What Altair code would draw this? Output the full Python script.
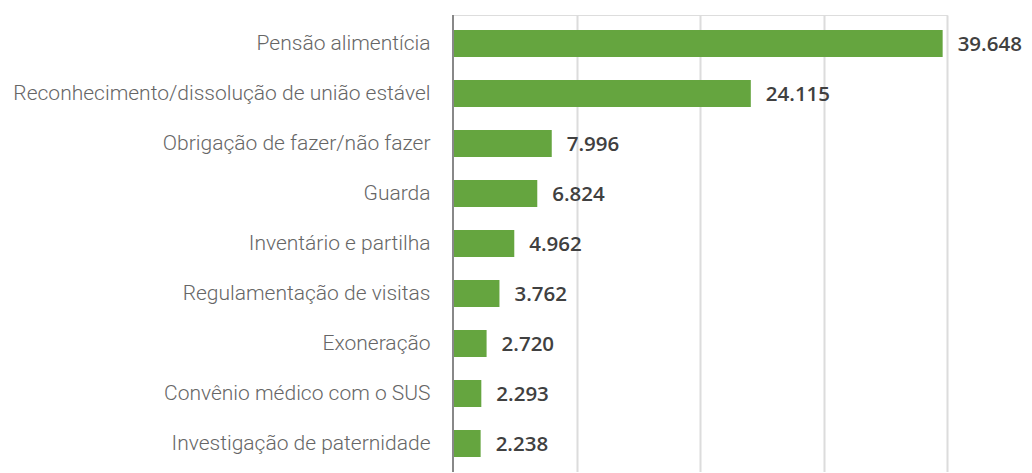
import altair as alt
import pandas as pd

categories = [
    "Pensão alimentícia",
    "Reconhecimento/dissolução de união estável",
    "Obrigação de fazer/não fazer",
    "Guarda",
    "Inventário e partilha",
    "Regulamentação de visitas",
    "Exoneração",
    "Convênio médico com o SUS",
    "Investigação de paternidade",
]
values = [39648, 24115, 7996, 6824, 4962, 3762, 2720, 2293, 2238]
value_labels = ["39.648", "24.115", "7.996", "6.824", "4.962", "3.762", "2.720", "2.293", "2.238"]

df = pd.DataFrame({"cat": categories, "val": values, "lab": value_labels})

y_enc = alt.Y(
    "cat:N",
    sort=categories,
    scale=alt.Scale(paddingInner=0.46, paddingOuter=0.3),
    axis=alt.Axis(
        title=None,
        ticks=False,
        domain=False,
        labelFont="Roboto",
        labelFontWeight=300,
        labelFontSize=21,
        labelColor="#666666",
        labelPadding=23,
        labelLimit=0,
    ),
)
x_enc = alt.X(
    "val:Q",
    scale=alt.Scale(domain=[0, 40000], nice=False),
    axis=alt.Axis(
        title=None,
        labels=False,
        ticks=False,
        domain=False,
        grid=True,
        gridColor="#dcdcdc",
        gridWidth=2,
        values=[10000, 20000, 30000, 40000],
    ),
)

bars = alt.Chart(df).mark_bar(color="#65a53f").encode(x=x_enc, y=y_enc)

texts = alt.Chart(df).mark_text(
    align="left", baseline="middle", dx=15, dy=1,
    font="Open Sans", fontWeight=600, fontSize=20.5, color="#404040",
).encode(x="val:Q", y=alt.Y("cat:N", sort=categories), text="lab:N")

axis_line = alt.Chart(df).mark_rule(color="#888888", strokeWidth=2).encode(
    x=alt.value(0), y=alt.value(0), y2=alt.value(460)
)

chart = (
    alt.layer(bars, axis_line, texts)
    .properties(
        width=494,
        height=457,
        autosize=alt.AutoSizeParams(type="none"),
        padding={"left": 445, "top": 7, "right": 77, "bottom": 0},
    )
    .configure_view(stroke=None)
    .configure(background="white")
)

chart.save("out.html", embed_options={"renderer": "svg", "actions": False})
